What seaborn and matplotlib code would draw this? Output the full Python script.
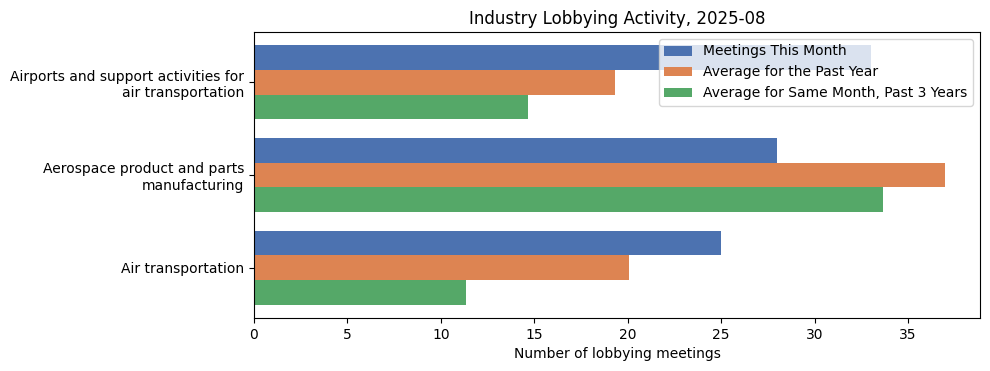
import pandas as pd
import seaborn as sns
import matplotlib.pyplot as plt

# 数据
industries = [
    "Airports and support activities for\nair transportation",
    "Aerospace product and parts\nmanufacturing",
    "Air transportation",
]
meetings_this_month = [33, 28, 25]
avg_past_year = [19.33, 37, 20.08]
avg_same_month_3y = [14.67, 33.67, 11.33]
series_names = [
    "Meetings This Month",
    "Average for the Past Year",
    "Average for Same Month, Past 3 Years",
]

df = pd.DataFrame({
    "Industry": industries * 3,
    "Value": meetings_this_month + avg_past_year + avg_same_month_3y,
    "Series": [s for s in series_names for _ in industries],
})

fig, ax = plt.subplots(figsize=(9.9, 3.71), dpi=100)
sns.barplot(data=df, y="Industry", x="Value", hue="Series",
            palette="deep", orient="h", ax=ax, saturation=1)

ax.set_title("Industry Lobbying Activity, 2025-08")
ax.set_xlabel("Number of lobbying meetings")
ax.set_ylabel("")
ax.legend(loc="upper right", title=None)
# 与 matplotlib 默认 5% 边距一致
ax.set_ylim(2.54, -0.54)

# 手动调整边距以匹配原图
fig.subplots_adjust(left=254 / 990, right=980 / 990,
                    top=1 - 32 / 371, bottom=1 - 318 / 371)

plt.savefig("out.png", dpi=100)
